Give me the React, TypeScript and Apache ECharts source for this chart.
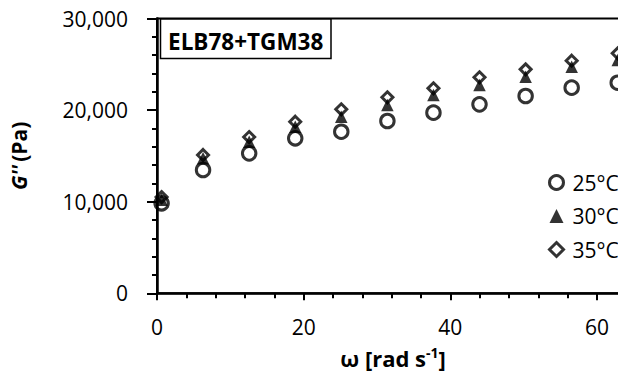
import React, { useEffect, useRef } from "react";
import * as echarts from "echarts";

const omega = [0.628, 6.28, 12.57, 18.85, 25.13, 31.42, 37.7, 43.98, 50.27, 56.55, 62.83];
const g25 = [9825, 13460, 15280, 16920, 17640, 18810, 19720, 20630, 21540, 22450, 22990];
const g30 = [10200, 14740, 16550, 18190, 19280, 20560, 21650, 22740, 23650, 24740, 25470];
const g35 = [10500, 15100, 17060, 18730, 20090, 21400, 22380, 23580, 24450, 25390, 26200];
const seriesNames = ["25°C", "30°C", "35°C"];

const FONT = "Open Sans";

export default function App() {
  const ref = useRef<HTMLDivElement>(null);
  useEffect(() => {
    if (!ref.current) return;
    const chart = echarts.init(ref.current, null, { renderer: "svg" });
    const pts = (ys: number[]) => omega.map((x, i) => [x, ys[i]]);
    chart.setOption({
      animation: false,
      backgroundColor: "#fff",
      textStyle: { fontFamily: FONT },
      grid: {
        left: 157,
        top: 18.5,
        width: 513.3,
        height: 274.8,
        show: true,
        borderColor: "#000",
        borderWidth: 2,
        backgroundColor: "transparent",
      },
      xAxis: {
        type: "value",
        min: 0,
        max: 70,
        interval: 20,
        splitLine: { show: false },
        axisLine: { lineStyle: { color: "#000", width: 2.5 } },
        axisTick: { length: 7, lineStyle: { color: "#000", width: 2 } },
        minorTick: { show: true, splitNumber: 5, length: 5, lineStyle: { color: "#000", width: 2 } },
        axisLabel: { color: "#000", fontSize: 21, fontFamily: FONT, margin: 23, showMaxLabel: false },
      },
      yAxis: {
        type: "value",
        min: 0,
        max: 30000,
        interval: 10000,
        splitLine: { show: false },
        axisLine: { show: true, lineStyle: { color: "#000", width: 2.5 } },
        axisTick: { show: true, length: 10, lineStyle: { color: "#000", width: 2 } },
        minorTick: { show: true, splitNumber: 5, length: 5, lineStyle: { color: "#000", width: 2 } },
        axisLabel: {
          color: "#000",
          fontSize: 21,
          fontFamily: FONT,
          margin: 29,
          formatter: (v: number) => v.toLocaleString("en-US"),
        },
        name: "{g|G''} {p|(Pa)}",
        nameLocation: "middle",
        nameRotate: 90,
        nameGap: 128,
        nameTextStyle: {
          color: "#000",
          rich: {
            g: { fontStyle: "italic", fontWeight: "bold", fontSize: 21, fontFamily: FONT, color: "#000" },
            p: { fontWeight: "bold", fontSize: 21, fontFamily: FONT, color: "#000" },
          },
        },
      },
      legend: {
        orient: "vertical",
        left: 548,
        top: 172,
        padding: 0,
        itemWidth: 14,
        itemHeight: 14,
        itemGap: 12.5,
        textStyle: { color: "#000", fontSize: 21, fontFamily: FONT, lineHeight: 21, padding: [0, 0, 0, 4] },
        data: [
          { name: seriesNames[0], itemStyle: { borderWidth: 3 } },
          { name: seriesNames[1] },
          { name: seriesNames[2], itemStyle: { borderWidth: 3 } },
        ],
      },
      graphic: [
        {
          type: "rect",
          shape: { x: 160.5, y: 19, width: 170.5, height: 39.5 },
          style: { fill: "#fff", stroke: "#000", lineWidth: 1.5 },
          z: 10,
        },
        {
          type: "text",
          x: 245.7,
          y: 41,
          style: {
            text: "ELB78+TGM38",
            fontFamily: FONT,
            fontWeight: "bold",
            fontSize: 22.5,
            fill: "#000",
            align: "center",
            verticalAlign: "middle",
          },
          z: 11,
        },
        {
          type: "text",
          x: 393,
          y: 358,
          style: {
            text: "{a|ω [rad s}{s|-1}{a|]}",
            align: "center",
            verticalAlign: "middle",
            rich: {
              a: { fontFamily: FONT, fontWeight: "bold", fontSize: 22, fill: "#000", lineHeight: 25 },
              s: { fontFamily: FONT, fontWeight: "bold", fontSize: 14, fill: "#000", verticalAlign: "top", lineHeight: 25 },
            },
          },
          z: 11,
        },
      ],
      series: [
        {
          name: seriesNames[0],
          type: "scatter",
          data: pts(g25),
          symbol: "circle",
          symbolSize: 13.5,
          itemStyle: { color: "rgba(255,255,255,0)", borderColor: "#000", borderWidth: 3 },
          z: 2,
        },
        {
          name: seriesNames[1],
          type: "scatter",
          data: pts(g30),
          symbol: "triangle",
          symbolSize: 12.5,
          itemStyle: { color: "#000", borderColor: "#000", borderWidth: 0 },
          z: 3,
        },
        {
          name: seriesNames[2],
          type: "scatter",
          data: pts(g35),
          symbol: "diamond",
          symbolSize: 11,
          itemStyle: { color: "rgba(255,255,255,0)", borderColor: "#000", borderWidth: 3 },
          z: 4,
        },
      ],
    });
    return () => chart.dispose();
  }, []);
  return (
    <div style={{ position: "fixed", left: 0, top: 0, width: 618, height: 378, overflow: "hidden", background: "#fff" }}>
      <div ref={ref} style={{ width: 700, height: 378 }} />
    </div>
  );
}
